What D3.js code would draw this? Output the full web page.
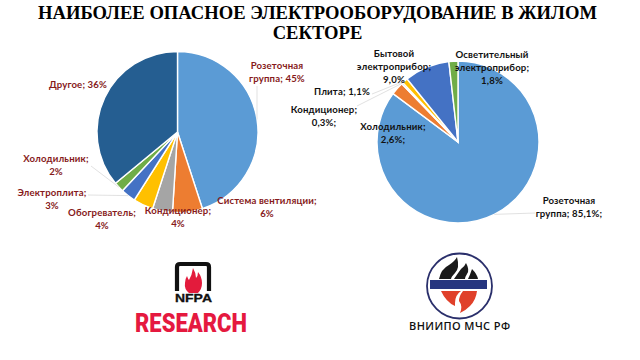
<!DOCTYPE html>
<html><head><meta charset="utf-8">
<script src="https://cdn.jsdelivr.net/npm/d3@7"></script>
<style>html,body{margin:0;padding:0;background:#fff}svg{display:block}</style>
</head><body><svg id="c" width="640" height="360"></svg>
<script>
const titleLines = ["НАИБОЛЕЕ ОПАСНОЕ ЭЛЕКТРООБОРУДОВАНИЕ В ЖИЛОМ","СЕКТОРЕ"];
const leftNames = ["Розеточная группа","Система вентиляции","Кондиционер","Обогреватель","Электроплита","Холодильник","Другое"];
const leftValues = [45,6,4,4,3,2,36];
const leftColors = ["#5b9bd5","#ed7d31","#a5a5a5","#ffc000","#4472c4","#70ad47","#255e91"];
const leftLabels = [["Розеточная","группа; 45%"],["Система вентиляции;","6%"],["Кондиционер;","4%"],["Обогреватель;","4%"],["Электроплита;","3%"],["Холодильник;","2%"],["Другое; 36%"]];
const rightNames = ["Розеточная группа","Холодильник","Кондиционер","Плита","Бытовой электроприбор","Осветительный электроприбор"];
const rightValues = [85.1,2.6,0.3,1.1,9.0,1.8];
const rightColors = ["#5b9bd5","#ed7d31","#a5a5a5","#ffc000","#4472c4","#70ad47"];
const rightLabels = [["Розеточная","группа; 85,1%;"],["Холодильник;","2,6%;"],["Кондиционер;","0,3%;"],["Плита; 1,1%"],["Бытовой","электроприбор;","9,0%"],["Осветительный","электроприбор;","1,8%"]];

const leftAnchor = [[277,69],[267,204],[178,214],[102,216],[52,196],[56,162],[78,88]];
const rightAnchor = [[569,204],[393,130],[324,113],[342,95],[394,57],[492,58]];

const svg = d3.select("#c");
svg.append("g").selectAll("text").data(titleLines).join("text")
  .attr("x",317.5).attr("y",(d,i)=>18.5+i*20).attr("text-anchor","middle")
  .attr("font-family","Liberation Serif").attr("font-weight","bold").attr("font-size",18.6)
  .attr("fill","#000").text(d=>d);

function drawPie(cx,cy,r,values,colors,labels,anchors,textColor,leaders){
  const g = svg.append("g").attr("transform",`translate(${cx},${cy})`);
  const arcs = d3.pie().sort(null)(values);
  const arc = d3.arc().innerRadius(0).outerRadius(r);
  g.selectAll("path").data(arcs).join("path").attr("d",arc)
    .attr("fill",(d,i)=>colors[i]).attr("stroke","#fff").attr("stroke-width",1.4);
  const lg = svg.append("g").attr("fill","none").attr("stroke","#d9d9d9").attr("stroke-width",0.8);
  leaders.forEach(l=>{
    const d = arcs[l.i], a=(d.startAngle+d.endAngle)/2;
    const px = cx+Math.sin(a)*r, py = cy-Math.cos(a)*r;
    lg.append("polyline").attr("points",[[px,py],...l.pts].map(p=>p.join(",")).join(" "));
  });
  const t = svg.append("g").attr("font-family","Lato").attr("font-weight","bold").attr("font-size",9.6)
    .attr("letter-spacing",0.15).attr("fill",textColor).attr("text-anchor","middle");
  labels.forEach((ls,i)=>{
    ls.forEach((s,j)=>t.append("text").attr("x",anchors[i][0]).attr("y",anchors[i][1]+j*13).text(s));
  });
}
drawPie(177.5,132,80.5,leftValues,leftColors,leftLabels,leftAnchor,"#861a1a",[
  {i:0,pts:[[257,110],[257,86]]},
  {i:4,pts:[[88,195]]},
  {i:5,pts:[[91,166]]}
]);
drawPie(458,142,81,rightValues,rightColors,rightLabels,rightAnchor,"#111",[
  {i:0,pts:[[535,213]]},
  {i:2,pts:[[357,106]]},
  {i:3,pts:[[372,94]]}
]);

// NFPA logo
const nf = svg.append("g");
nf.append("path").attr("d","M177 291 L177 267 Q177 264 180 264 L206 264 Q209 264 209 267 L209 291")
  .attr("fill","none").attr("stroke","#111").attr("stroke-width",4.2);
nf.append("path").attr("d","M193 268 Q196 273 196 278 Q198 276 198 272 Q202 277 202 283 Q202 289 198 293 L189 293 Q184 289 185 283 Q185 279 187 276 Q188 279 189 280 Q192 275 193 268 Z").attr("fill","#e31b3c");
nf.append("text").attr("x",175).attr("y",302).attr("font-family","Liberation Sans")
  .attr("font-weight","bold").attr("font-size",11).attr("textLength",37).attr("lengthAdjust","spacingAndGlyphs")
  .attr("stroke","#111").attr("stroke-width",0.3).attr("fill","#111").text("NFPA");
nf.append("text").attr("x",135).attr("y",332).attr("font-family","Roboto")
  .attr("font-weight","900").attr("font-size",25).attr("textLength",112).attr("lengthAdjust","spacingAndGlyphs")
  .attr("fill","#e5193f").text("RESEARCH");

// ВНИИПО logo
const vn = svg.append("g");
vn.append("circle").attr("cx",459.5).attr("cy",286).attr("r",32.5).attr("fill","#fff").attr("stroke","#2a2f6b").attr("stroke-width",1.8);
vn.append("path").attr("d","M439 279 Q441 269 449 265 Q455 261 457 257 Q460 268 455 273 Q451 277 451 279 Z M454 279 Q458 273 461 269 Q465 266 466 263 Q470 270 467 274 Q465 277 465 279 Z M468 279 Q470 275 472 269 Q477 274 478 279 Z").attr("fill","#1a1a1a");
vn.append("rect").attr("x",430).attr("y",280).attr("width",57).attr("height",9).attr("fill","#26357f");
vn.append("path").attr("d","M441 291 L461 291 Q455 295 455 303 L455 306 Q446 302 441 291 Z M463 291 L477 291 Q476 300 470 306 Q465 311 460 313 Q463 306 459 301 Q459 296 463 291 Z").attr("fill","#e0402a");
vn.append("text").attr("x",409).attr("y",330).attr("font-family","Open Sans")
  .attr("font-weight","600").attr("font-size",11).attr("textLength",101).attr("lengthAdjust","spacing")
  .attr("fill","#111").text("ВНИИПО МЧС РФ");
</script></body></html>
